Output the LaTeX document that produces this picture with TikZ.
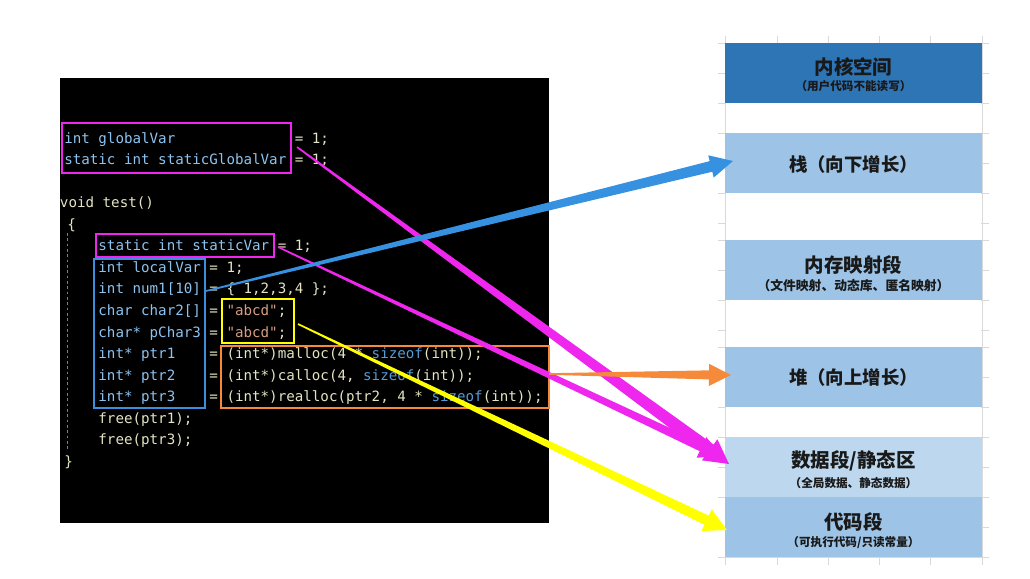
\documentclass[tikz,border=0pt]{standalone}
\usepackage{fontspec}
\setmonofont{DejaVu Sans Mono}
\newfontfamily\cjk{Noto Sans CJK SC}
\usetikzlibrary{calc}
\definecolor{gridc}{RGB}{217,217,217}
\definecolor{kern}{RGB}{46,117,182}
\definecolor{segl}{RGB}{157,195,230}
\definecolor{segd}{RGB}{189,215,238}
\definecolor{cb}{RGB}{140,195,240}
\definecolor{cc}{RGB}{228,228,196}
\definecolor{cs}{RGB}{214,157,133}
\definecolor{csz}{RGB}{86,156,214}
\definecolor{mag}{RGB}{238,38,238}
\definecolor{bbox}{RGB}{58,142,219}
\definecolor{ybox}{RGB}{255,255,0}
\definecolor{obox}{RGB}{245,139,58}
\definecolor{barrow}{RGB}{55,145,225}
\newcommand\tarrow[6]{%
  \coordinate (hb) at ($(#3)!#6!(#2)$);
  \fill[#1] ($(#2)!0.6pt!90:(#3)$) -- ($(hb)!#4!90:(#3)$) -- ($(hb)!#5!90:(#3)$) -- (#3)
    -- ($(hb)!#5!-90:(#3)$) -- ($(hb)!#4!-90:(#3)$) -- ($(#2)!0.6pt!-90:(#3)$) -- cycle;}
\newcommand\C[5]{\node[code,text=#4] (#1) at ({64+#2*8.54},{143+#3*21.57}) {#5};}
\begin{document}
\begin{tikzpicture}[x=0.75pt,y=-0.75pt,
  code/.style={anchor=base west,inner sep=0pt,font=\ttfamily\fontsize{10.64}{12}\selectfont},
  seg/.style={draw=none,minimum width=192.75pt,minimum height=45pt,inner sep=0pt},
  ttl/.style={font=\cjk\bfseries\fontsize{14.6}{16}\selectfont,text=black!90,inner sep=0pt},
  ttls/.style={font=\cjk\bfseries\fontsize{13.8}{16}\selectfont,text=black!90,inner sep=0pt},
  sub/.style={font=\cjk\bfseries\fontsize{8.7}{10}\selectfont,text=black!90,inner sep=0pt},
  subl/.style={font=\cjk\bfseries\fontsize{9.6}{11}\selectfont,text=black!90,inner sep=0pt},
  hl/.style={draw=#1,line width=2pt}]
\useasboundingbox (0,0) rectangle (1030,578);
\fill[white] (0,0) rectangle (1030,578);
% grid
\foreach \x in {725,777,828,879,930,982} \draw[gridc,line width=0.75pt] (\x,36) -- (\x,565);
\foreach \y in {43,73,103,133,163,193,223,240,270,300,330,347,377,407,437,467,497,527,557}
  \draw[gridc,line width=0.75pt] (718,\y) -- (989,\y);
\fill[white] (725.6,43) rectangle (981.4,557);
% segments
\node[seg,fill=kern] (kernel) at (853.5,73) {};
\node[seg,fill=segl] (stack) at (853.5,163) {};
\node[seg,fill=segl] (mmap) at (853.5,270) {};
\node[seg,fill=segl] (heap) at (853.5,377) {};
\node[seg,fill=segd] (data) at (853.5,467) {};
\node[seg,fill=segl] (codeseg) at (853.5,527) {};
\node[ttl] (kt) at (853.5,67) {内核空间};
\node[sub] (ks) at (853.5,86) {（用户代码不能读写）};
\node[ttls] (st) at (853.5,165) {栈（向下增长）};
\node[ttl] (mt) at (853.5,265) {内存映射段};
\node[subl] (ms) at (853.5,286) {（文件映射、动态库、匿名映射）};
\node[ttls] (ht) at (853.5,378) {堆（向上增长）};
\node[ttl] (dt) at (853.5,461) {数据段/静态区};
\node[sub] (ds) at (853.5,483) {（全局数据、静态数据）};
\node[ttl] (ct) at (853.5,522) {代码段};
\node[sub] (cs2) at (853.5,543) {（可执行代码/只读常量）};
% code panel
\fill[black] (60,78) rectangle (549,523);
\draw[gray,line width=0.6pt,dash pattern=on 2pt off 2pt] (67,233) -- (67,450);
\C{a0}{0}{0}{cb}{int globalVar}
\C{a1}{27}{0}{cc}{= 1;}
\C{b0}{0}{1}{cb}{static int staticGlobalVar}
\C{b1}{27}{1}{cc}{= 1;}
\C{v0}{-0.5}{3}{cc}{void test()}
\C{v1}{0.35}{4}{cc}{\{}
\C{s0}{4}{5}{cb}{static int staticVar}
\C{s1}{25}{5}{cc}{= 1;}
\C{l0}{4}{6}{cb}{int localVar}
\C{l1}{17}{6}{cc}{= 1;}
\C{n0}{4}{7}{cb}{int num1[10]}
\C{n1}{17}{7}{cc}{= \{ 1,2,3,4 \};}
\C{c0}{4}{8}{cb}{char char2[]}
\C{c1}{17}{8}{cc}{= {\color{cs}"abcd"};}
\C{p0}{4}{9}{cb}{char* pChar3}
\C{p1}{17}{9}{cc}{= {\color{cs}"abcd"};}
\C{q0}{4}{10}{cb}{int* ptr1}
\C{q1}{17}{10}{cc}{= (int*)malloc(4 * {\color{csz}sizeof}(int));}
\C{r0}{4}{11}{cb}{int* ptr2}
\C{r1}{17}{11}{cc}{= (int*)calloc(4, {\color{csz}sizeof}(int));}
\C{t0}{4}{12}{cb}{int* ptr3}
\C{t1}{17}{12}{cc}{= (int*)realloc(ptr2, 4 * {\color{csz}sizeof}(int));}
\C{f0}{4}{13}{cc}{free(ptr1);}
\C{f1}{4}{14}{cc}{free(ptr3);}
\C{e0}{0}{15}{cc}{\}}
% highlight boxes
\draw[hl=mag] (62,123) rectangle (291,173);
\draw[hl=mag] (96,234) rectangle (274,257);
\draw[hl=bbox] (94,259) rectangle (205,408);
\draw[hl=ybox] (222,299) rectangle (294,343);
\draw[hl=obox] (221,346) rectangle (549,408);
% arrows
\coordinate (m1s) at (297,147);  \coordinate (m1t) at (729,464);
\coordinate (m2s) at (278,247);  \coordinate (m2t) at (722,457);
\coordinate (ys) at (298,324);   \coordinate (yt) at (727,530);
\coordinate (bs) at (206,291);   \coordinate (bt) at (733,161);
\coordinate (os) at (549,374);   \coordinate (ot) at (731,375);
\tarrow{mag}{m1s}{m1t}{4.9pt}{9.8pt}{18pt}
\tarrow{mag}{m2s}{m2t}{3.2pt}{8.5pt}{17pt}
\tarrow{ybox}{ys}{yt}{3.8pt}{9pt}{17pt}
\tarrow{barrow}{bs}{bt}{4.1pt}{8.6pt}{17pt}
\tarrow{obox}{os}{ot}{3.4pt}{8.3pt}{16.5pt}
\end{tikzpicture}
\end{document}
